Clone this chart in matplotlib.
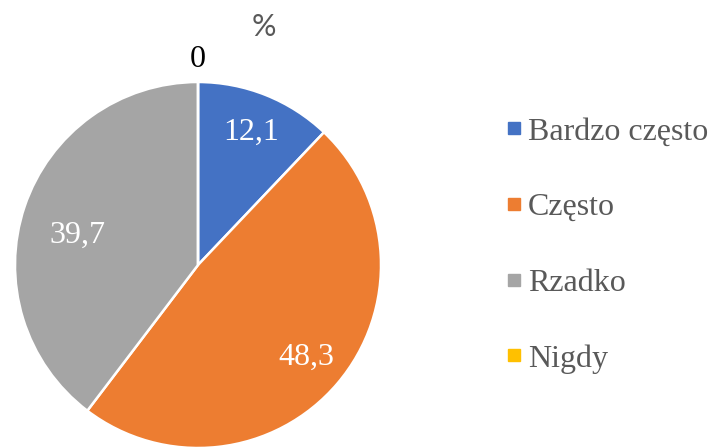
import numpy as np
import matplotlib
matplotlib.use("Agg")
import matplotlib.pyplot as plt
from matplotlib.lines import Line2D

categories = ["Bardzo często", "Często", "Rzadko", "Nigdy"]
values = [12.1, 48.3, 39.7, 0.0]
value_labels = ["12,1", "48,3", "39,7", "0"]
colors = ["#4472C4", "#ED7D31", "#A5A5A5", "#FFC000"]
title = "%"

# label placement (radial distance as fraction of radius, angular nudge in degrees)
label_dist = [0.78, 0.78, 0.68, 1.125]
label_nudge = [0, 0, 5, 0]
label_colors = ["white", "white", "white", "black"]

fig = plt.figure(figsize=(7.12, 4.48), dpi=100)
W, H = 712, 448
cx, cy, r = 198, 265, 183
ax = fig.add_axes([(cx - r) / W, (H - cy - r) / H, 2 * r / W, 2 * r / H])
wedges, _ = ax.pie(values, colors=colors, startangle=90, counterclock=False,
                   radius=1.0, wedgeprops=dict(edgecolor="white", linewidth=1.8))
ax.set_xlim(-1, 1)
ax.set_ylim(-1, 1)
ax.set_aspect("equal")
ax.axis("off")

serif = "Liberation Serif"
for w, lab, d, nd, col in zip(wedges, value_labels, label_dist, label_nudge, label_colors):
    ang = np.deg2rad((w.theta1 + w.theta2) / 2 + nd)
    ax.text(d * np.cos(ang), d * np.sin(ang), lab, ha="center", va="center",
            fontsize=23, color=col, family=serif, clip_on=False)

fig.text(264 / W, 1 - 27 / H, title, ha="center", va="center", fontsize=22,
         color="#595959", family="Lato")

handles = [Line2D([], [], marker="s", linestyle="none", markersize=9,
                  markerfacecolor=c, markeredgecolor=c) for c in colors]
leg = fig.legend(handles, categories, loc="upper left",
                 bbox_to_anchor=(506 / W, 1 - 117 / H), frameon=False,
                 prop=dict(family=serif, size=23), labelspacing=1.45,
                 handlelength=0.5, handletextpad=0.19, borderpad=0, borderaxespad=0)
for t in leg.get_texts():
    t.set_color("#595959")

fig.savefig("out.png", dpi=100)
